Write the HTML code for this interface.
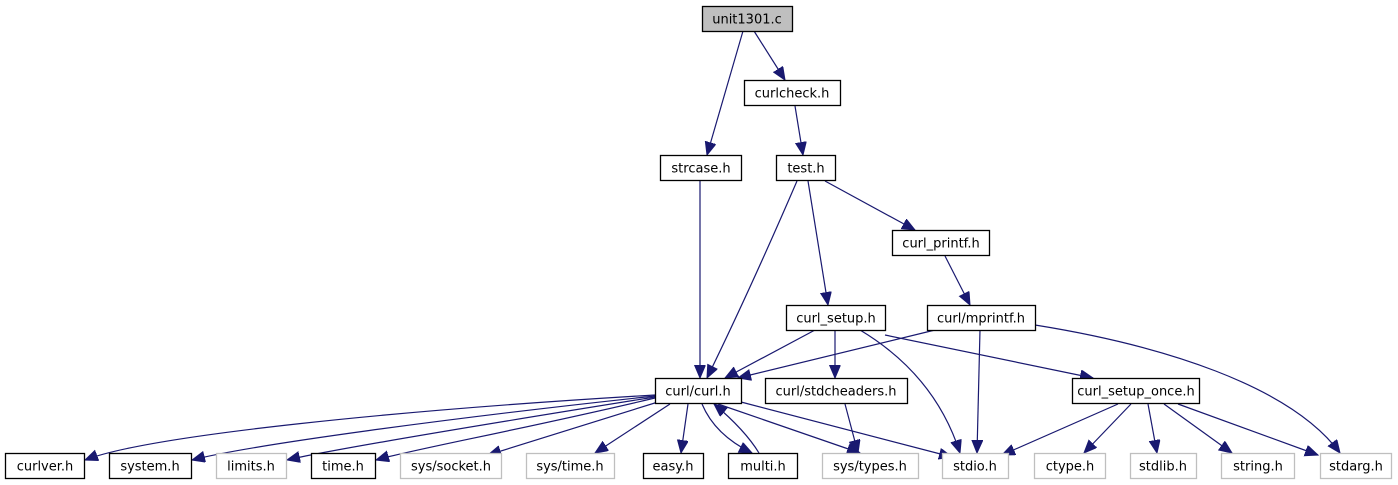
<!DOCTYPE html>
<html><head><meta charset="utf-8"><style>
html,body{margin:0;padding:0;background:#fff;width:1398px;height:485px;overflow:hidden}
svg text{font-family:"DejaVu Sans","Liberation Sans",sans-serif;font-size:13px;fill:#000;text-anchor:middle}
</style></head><body>
<svg width="1398" height="485" viewBox="0 0 1398 485" xmlns="http://www.w3.org/2000/svg">
<defs><marker id="a" markerUnits="userSpaceOnUse" markerWidth="14" markerHeight="12" refX="13" refY="5.5" orient="auto"><path d="M0,0 L13,5.5 L0,11 z" fill="#191970" stroke="#191970"/></marker></defs>
<g fill="none" stroke="#191970" stroke-width="1.2" marker-end="url(#a)">
<path d="M743,31 L707,155"/>
<path d="M754,31 L785,80"/>
<path d="M795,106 L803,155"/>
<path d="M700,181 L700,378"/>
<path d="M797,181 Q750,290 707,378"/>
<path d="M808,181 L828,305"/>
<path d="M825,181 L915,230"/>
<path d="M945,256 L970,305"/>
<path d="M815,330 L725,378"/>
<path d="M835,330 L835,378"/>
<path d="M860,330 Q935,375 960,453"/>
<path d="M885,335 L1093,378"/>
<path d="M935,330 L738,378"/>
<path d="M980,330 L977,453"/>
<path d="M1035,325 C1160,345 1290,385 1340,453"/>
<path d="M655,395 C400,410 150,435 85,460"/>
<path d="M655,396 C450,418 250,445 192,460"/>
<path d="M655,397 C480,425 330,450 287,460"/>
<path d="M655,398 C520,430 410,450 376,460"/>
<path d="M658,402 L488,455"/>
<path d="M670,404 L595,453"/>
<path d="M688,404 L681,453"/>
<path d="M702,404 Q715,435 752,453"/>
<path d="M759,453 Q745,430 714,404"/>
<path d="M718,404 L860,453"/>
<path d="M741,402 L952,457"/>
<path d="M845,404 L858,453"/>
<path d="M1118,404 L1002,455"/>
<path d="M1131,404 L1084,453"/>
<path d="M1148,404 L1157,453"/>
<path d="M1164,404 L1232,453"/>
<path d="M1178,404 L1318,455"/>
</g>
<g stroke-width="1.3">
<rect x="702.5" y="6.5" width="90" height="25" fill="#bfbfbf" stroke="#000"/>
<rect x="744.5" y="80.5" width="96" height="25" fill="#fff" stroke="#000"/>
<rect x="660.5" y="155.5" width="81" height="25" fill="#fff" stroke="#000"/>
<rect x="776.5" y="155.5" width="59" height="25" fill="#fff" stroke="#000"/>
<rect x="892.5" y="230.5" width="97" height="25" fill="#fff" stroke="#000"/>
<rect x="786.5" y="305.5" width="99" height="25" fill="#fff" stroke="#000"/>
<rect x="927.5" y="305.5" width="108" height="25" fill="#fff" stroke="#000"/>
<rect x="655.5" y="378.5" width="86" height="25" fill="#fff" stroke="#000"/>
<rect x="765.5" y="378.5" width="142" height="25" fill="#fff" stroke="#000"/>
<rect x="1072.5" y="378.5" width="127" height="25" fill="#fff" stroke="#000"/>
<rect x="5.5" y="453.5" width="79" height="25" fill="#fff" stroke="#000"/>
<rect x="109.5" y="453.5" width="82" height="25" fill="#fff" stroke="#000"/>
<rect x="216.5" y="453.5" width="70" height="25" fill="#fff" stroke="#bfbfbf"/>
<rect x="311.5" y="453.5" width="64" height="25" fill="#fff" stroke="#000"/>
<rect x="400.5" y="453.5" width="101" height="25" fill="#fff" stroke="#bfbfbf"/>
<rect x="526.5" y="453.5" width="88" height="25" fill="#fff" stroke="#bfbfbf"/>
<rect x="643.5" y="453.5" width="60" height="25" fill="#fff" stroke="#000"/>
<rect x="728.5" y="453.5" width="69" height="25" fill="#fff" stroke="#000"/>
<rect x="822.5" y="453.5" width="96" height="25" fill="#fff" stroke="#bfbfbf"/>
<rect x="942.5" y="453.5" width="66" height="25" fill="#fff" stroke="#bfbfbf"/>
<rect x="1034.5" y="453.5" width="71" height="25" fill="#fff" stroke="#bfbfbf"/>
<rect x="1130.5" y="453.5" width="66" height="25" fill="#fff" stroke="#bfbfbf"/>
<rect x="1221.5" y="453.5" width="73" height="25" fill="#fff" stroke="#bfbfbf"/>
<rect x="1320.5" y="453.5" width="71" height="25" fill="#fff" stroke="#bfbfbf"/>
</g>
<text x="747" y="23.5">unit1301.c</text>
<text x="792" y="97.5">curlcheck.h</text>
<text x="701" y="172.5">strcase.h</text>
<text x="806" y="172.5">test.h</text>
<text x="941" y="247.5">curl_printf.h</text>
<text x="836" y="322.5">curl_setup.h</text>
<text x="981" y="322.5">curl/mprintf.h</text>
<text x="698" y="395.5">curl/curl.h</text>
<text x="836" y="395.5">curl/stdcheaders.h</text>
<text x="1136" y="395.5">curl_setup_once.h</text>
<text x="45" y="470.5">curlver.h</text>
<text x="150" y="470.5">system.h</text>
<text x="251" y="470.5">limits.h</text>
<text x="343" y="470.5">time.h</text>
<text x="451" y="470.5">sys/socket.h</text>
<text x="570" y="470.5">sys/time.h</text>
<text x="673" y="470.5">easy.h</text>
<text x="763" y="470.5">multi.h</text>
<text x="870" y="470.5">sys/types.h</text>
<text x="975" y="470.5">stdio.h</text>
<text x="1070" y="470.5">ctype.h</text>
<text x="1163" y="470.5">stdlib.h</text>
<text x="1258" y="470.5">string.h</text>
<text x="1356" y="470.5">stdarg.h</text>
</svg>
</body></html>
